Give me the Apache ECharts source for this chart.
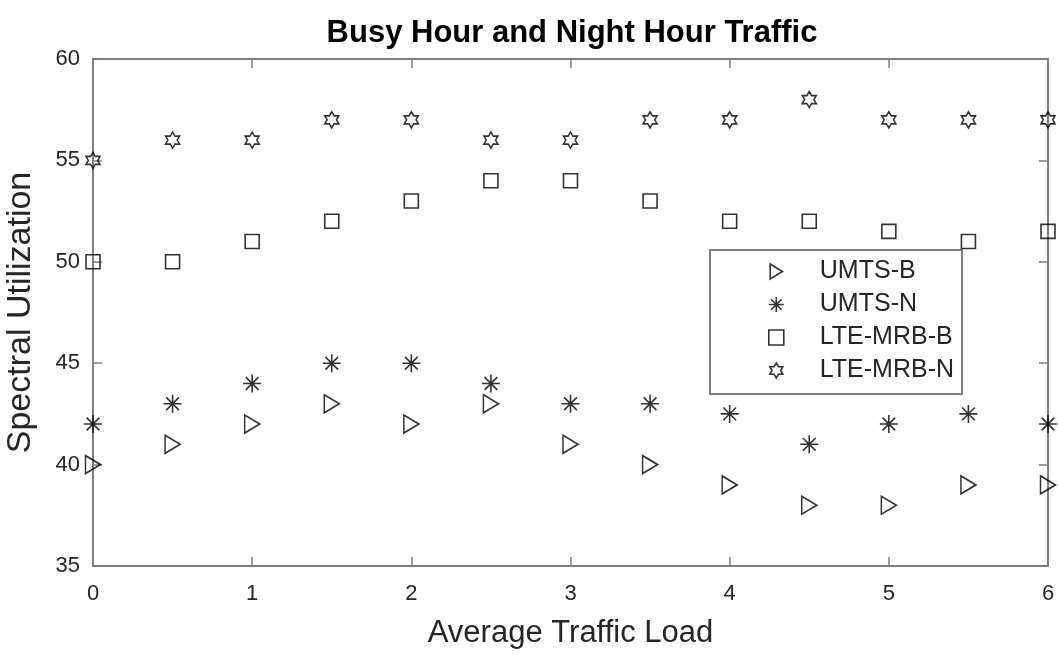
<!DOCTYPE html>
<html>
<head>
<meta charset="utf-8">
<script src="https://cdn.jsdelivr.net/npm/echarts@6/dist/echarts.min.js"></script>
<style>
  html, body { margin: 0; padding: 0; background: #fff; }
  #chart { width: 1058px; height: 655px; }
</style>
</head>
<body>
<div id="chart"></div>
<script>
// Average traffic load (x) and spectral utilization (y) per scheme
const trafficLoad = [0, 0.5, 1, 1.5, 2, 2.5, 3, 3.5, 4, 4.5, 5, 5.5, 6];
const umtsBusy   = [40, 41, 42, 43, 42, 43, 41, 40, 39, 38, 38, 39, 39];
const umtsNight  = [42, 43, 44, 45, 45, 44, 43, 43, 42.5, 41, 42, 42.5, 42];
const lteBusy    = [50, 50, 51, 52, 53, 54, 54, 53, 52, 52, 51.5, 51, 51.5];
const lteNight   = [55, 56, 56, 57, 57, 56, 56, 57, 57, 58, 57, 57, 57];
const seriesNames = ['UMTS-B', 'UMTS-N', 'LTE-MRB-B', 'LTE-MRB-N'];
const xTicks = { min: 0, max: 6, step: 1 };
const yTicks = { min: 35, max: 60, step: 5 };

// Outline marker shapes
const triRight = 'path://M0,0L13,8L0,16Z';
const asterisk = 'path://M0,-8L0,8M-8,0L8,0M-5.66,-5.66L5.66,5.66M-5.66,5.66L5.66,-5.66';
const square = 'path://M0,0L10,0L10,10L0,10Z';
const hexagram = 'path://M0,-8L2.31,-4L6.93,-4L4.62,0L6.93,4L2.31,4L0,8L-2.31,4L-6.93,4L-4.62,0L-6.93,-4L-2.31,-4Z';

const markers = [
  { symbol: triRight, size: [15, 18] },
  { symbol: asterisk, size: 18 },
  { symbol: square, size: 14 },
  { symbol: hexagram, size: [14, 16] }
];
const values = [umtsBusy, umtsNight, lteBusy, lteNight];

const axisGray = '#7f7f7f';
const labelColor = '#262626';
const font = '"Liberation Sans", Arial, Helvetica, sans-serif';

function pairs(ys) { return trafficLoad.map((x, i) => [x, ys[i]]); }

const markerStyle = { color: 'rgba(0,0,0,0)', borderColor: '#000', borderWidth: 1.6 };

const series = seriesNames.map((name, k) => ({
  name: name,
  type: 'scatter',
  data: pairs(values[k]),
  symbol: markers[k].symbol,
  symbolSize: markers[k].size,
  symbolKeepAspect: false,
  itemStyle: markerStyle,
  clip: false,
  emphasis: { disabled: true },
  z: 5
}));

function valueAxis(pos, ticks, showLabel, extra) {
  return Object.assign({
    type: 'value',
    position: pos,
    min: ticks.min,
    max: ticks.max,
    interval: ticks.step,
    axisLine: { show: true, onZero: false, lineStyle: { color: axisGray, width: 2 } },
    axisTick: { show: true, inside: true, length: 9, lineStyle: { color: axisGray, width: 1.5 } },
    axisLabel: { show: showLabel, color: labelColor, fontSize: 22, fontFamily: font },
    splitLine: { show: false }
  }, extra || {});
}

const chart = echarts.init(document.getElementById('chart'), null, { renderer: 'canvas' });
chart.setOption({
  animation: false,
  backgroundColor: '#fff',
  title: {
    text: 'Busy Hour and Night Hour Traffic',
    left: 567,
    top: 13,
    textAlign: 'center',
    textStyle: { fontSize: 31, fontWeight: 'bold', color: '#000', fontFamily: font }
  },
  grid: { left: 93, right: 10, top: 59, bottom: 89, containLabel: false, outerBoundsMode: 'none' },
  legend: {
    orient: 'vertical',
    left: 710,
    top: 250,
    padding: [9, 8, 11, 58],
    itemWidth: 15,
    itemHeight: 15,
    itemGap: 8,
    backgroundColor: '#fff',
    borderColor: axisGray,
    borderWidth: 2,
    borderRadius: 0,
    selectedMode: false,
    itemStyle: markerStyle,
    textStyle: { fontSize: 25, color: labelColor, fontFamily: font, padding: [0, 0, 0, 31] },
    data: seriesNames.map((n, k) => ({ name: n, icon: markers[k].symbol }))
  },
  xAxis: [
    valueAxis('bottom', xTicks, true, {
      name: 'Average Traffic Load',
      nameLocation: 'middle',
      nameGap: 52,
      nameTextStyle: { fontSize: 31, color: labelColor, fontFamily: font },
      axisLabel: { show: true, color: labelColor, fontSize: 22, fontFamily: font, margin: 17 }
    }),
    valueAxis('top', xTicks, false)
  ],
  yAxis: [
    valueAxis('left', yTicks, true, {
      name: 'Spectral Utilization',
      nameLocation: 'middle',
      nameGap: 55,
      nameTextStyle: { fontSize: 34, color: labelColor, fontFamily: font },
      axisLabel: { show: true, color: labelColor, fontSize: 22, fontFamily: font, margin: 13 }
    }),
    valueAxis('right', yTicks, false)
  ],
  series: series
});
</script>
</body>
</html>
